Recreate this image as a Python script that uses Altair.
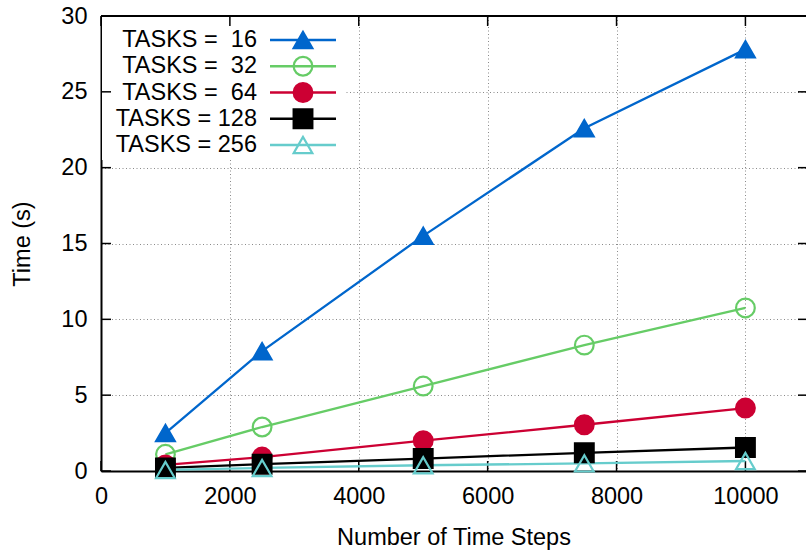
import altair as alt
import pandas as pd

# Benchmark: run time against number of time steps for several task counts
steps = [1000, 2500, 5000, 7500, 10000]
tasks = [16, 32, 64, 128, 256]
time_16 = [2.5, 7.9, 15.5, 22.6, 27.8]
time_32 = [1.1, 2.9, 5.6, 8.3, 10.75]
time_64 = [0.4, 0.92, 2.0, 3.05, 4.15]
time_128 = [0.2, 0.45, 0.82, 1.2, 1.55]
time_256 = [0.07, 0.2, 0.38, 0.5, 0.66]
x_ticks = [0, 2000, 4000, 6000, 8000, 10000]
y_ticks = [0, 5, 10, 15, 20, 25, 30]

colors = ["#0066cc", "#66cc66", "#cc0033", "#000000", "#66cccc"]
fills = ["#0066cc", "transparent", "#cc0033", "#000000", "transparent"]
shapes = ["triangle-up", "circle", "circle", "square", "triangle-up"]

FONT = "Liberation Sans"
FS = 23.5
W, H = 705, 455

# labels padded like "%3d" so they right-align as a column
labels = [f"TASKS = {t:3d}".replace(" ", "\u00a0") for t in tasks]
series_times = [time_16, time_32, time_64, time_128, time_256]

rows = []
for lab, vals in zip(labels, series_times):
    for s, v in zip(steps, vals):
        rows.append({"series": lab, "steps": s, "time": v})
df = pd.DataFrame(rows)

# x range runs a little past the right edge of the canvas
xscale = alt.Scale(domain=[0, 10940], nice=False, zero=False)
yscale = alt.Scale(domain=[0, 30], nice=False)

color_enc = alt.Color("series:N", scale=alt.Scale(domain=labels, range=colors), legend=None)
stroke_enc = alt.Stroke("series:N", scale=alt.Scale(domain=labels, range=colors), legend=None)
fill_enc = alt.Fill("series:N", scale=alt.Scale(domain=labels, range=fills), legend=None)
shape_enc = alt.Shape("series:N", scale=alt.Scale(domain=labels, range=shapes), legend=None)

x_axis = alt.Axis(
    values=x_ticks, format="d", title="Number of Time Steps", grid=True,
    ticks=False, domain=True, labelFlush=False, labelPadding=13,
    titleY=66, titleBaseline="middle",
)
y_axis = alt.Axis(
    values=y_ticks, format="d", title="Time (s)", grid=True,
    ticks=False, domain=True, labelPadding=14,
    titleX=-79, titleY=H / 2, titleBaseline="middle", titleAngle=270,
)


def xpos(field):
    return alt.X(field, scale=xscale, axis=x_axis)


def ypos(field):
    return alt.Y(field, scale=yscale, axis=y_axis)


# opaque background behind the key, drawn above the grid
key_bg = alt.Chart(pd.DataFrame({"k": [0]})).mark_rect(fill="white").encode(
    x=alt.value(1), x2=alt.value(244), y=alt.value(1), y2=alt.value(144))

# top edge of the frame
frame_top = alt.Chart(pd.DataFrame({"k": [0]})).mark_rule(color="black", strokeWidth=2).encode(
    x=alt.value(0), x2=alt.value(W), y=alt.value(0))

lines = alt.Chart(df).mark_line(strokeWidth=2.3).encode(
    x=xpos("steps:Q"), y=ypos("time:Q"), color=color_enc,
)

points = alt.Chart(df).mark_point(size=350, strokeWidth=2.2, opacity=1).encode(
    x=xpos("steps:Q"), y=ypos("time:Q"),
    stroke=stroke_enc, fill=fill_enc, shape=shape_enc,
)

# inward tick marks on all four sides of the frame
xt = pd.DataFrame({"v": x_ticks})
yt = pd.DataFrame({"v": y_ticks})
tick_style = dict(color="black", size=10, thickness=1.5, opacity=1)
ticks_bottom = alt.Chart(xt).mark_tick(**tick_style).encode(
    x=xpos("v:Q"), y=alt.value(H - 5))
ticks_top = alt.Chart(xt).mark_tick(**tick_style).encode(
    x=xpos("v:Q"), y=alt.value(5))
ticks_left = alt.Chart(yt).mark_tick(**tick_style).encode(
    y=ypos("v:Q"), x=alt.value(5))
ticks_right = alt.Chart(yt).mark_tick(**tick_style).encode(
    y=ypos("v:Q"), x=alt.value(W - 3))

# key entries: label, line sample and marker per series
key_layers = []
for i, lab in enumerate(labels):
    row = pd.DataFrame({"series": [lab]})
    ry = 24 + i * 26.25
    key_layers.append(alt.Chart(row).mark_rule(strokeWidth=2.3).encode(
        x=alt.value(169), x2=alt.value(235), y=alt.value(ry), color=color_enc))
    key_layers.append(alt.Chart(row).mark_point(size=350, strokeWidth=2.2, opacity=1).encode(
        x=alt.value(202), y=alt.value(ry), stroke=stroke_enc, fill=fill_enc, shape=shape_enc))
    key_layers.append(alt.Chart(row).mark_text(
        align="right", baseline="middle", fontSize=FS, font=FONT, color="black"
    ).encode(x=alt.value(156), y=alt.value(ry), text="series:N"))

chart = alt.layer(
    key_bg, frame_top, ticks_bottom, ticks_top, ticks_left, ticks_right,
    lines, points, *key_layers
).properties(
    width=W,
    height=H,
    autosize=alt.AutoSizeParams(type="none"),
    padding={"left": 101, "top": 16, "right": 0, "bottom": 79},
    background="white",
).configure_view(
    stroke=None
).configure_axis(
    labelFont=FONT, labelFontSize=FS, labelColor="black",
    titleFont=FONT, titleFontSize=FS, titleFontWeight="normal", titleColor="black",
    domainColor="black", domainWidth=2,
    gridColor="#8a8a8a", gridDash=[1, 2.5], gridWidth=1,
)

chart.save("out.html", embed_options={"renderer": "svg", "actions": False})
